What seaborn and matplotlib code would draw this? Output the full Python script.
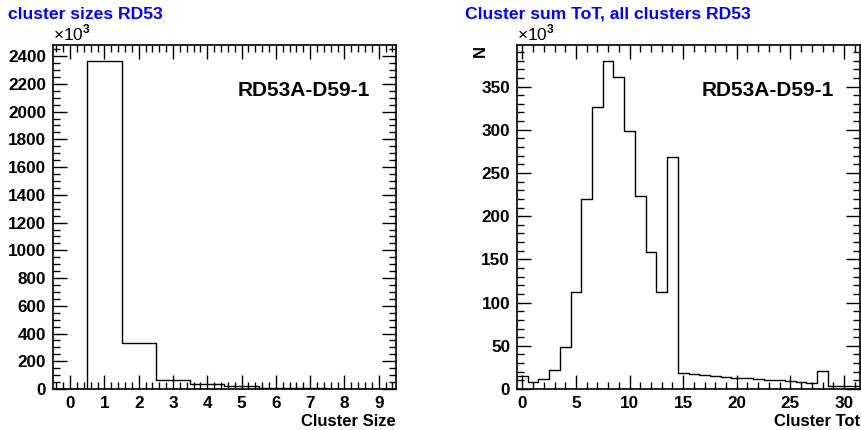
import matplotlib
matplotlib.use("Agg")
import matplotlib.pyplot as plt
import seaborn as sns
from matplotlib.ticker import MultipleLocator, AutoMinorLocator

# Datos de los histogramas (cuentas en unidades de 10^3)
size_bins = list(range(10))
size_counts = [0, 2365, 330, 62, 35, 20, 10, 5, 3, 2]

tot_bins = list(range(32))
tot_counts = [15.4, 7.7, 12, 22, 48.5, 112.8, 219.5, 325.8, 379.7, 360.8,
              298, 223, 159, 111.7, 269, 18, 17, 16, 15, 14,
              13, 12.5, 12, 11, 10, 9.5, 8, 7, 21, 4, 4, 4]

sns.set_style("ticks")
plt.rcParams["font.family"] = ["Liberation Sans", "DejaVu Sans"]
plt.rcParams["font.weight"] = "bold"
plt.rcParams["axes.labelweight"] = "bold"
plt.rcParams["text.color"] = "black"
plt.rcParams["axes.labelcolor"] = "black"
plt.rcParams["mathtext.fontset"] = "custom"
plt.rcParams["mathtext.rm"] = "Liberation Sans"

fig = plt.figure(figsize=(8.62, 4.30), dpi=100)
ax1 = fig.add_axes([0.0615, 0.0953, 0.3977, 0.800])
ax2 = fig.add_axes([0.5998, 0.0953, 0.3979, 0.800])


def root_style(ax, xmaj, xsub, ymaj, ysub):
    for s in ax.spines.values():
        s.set_linewidth(1.2)
        s.set_color("black")
    ax.xaxis.set_major_locator(MultipleLocator(xmaj))
    ax.xaxis.set_minor_locator(AutoMinorLocator(xsub))
    ax.yaxis.set_major_locator(MultipleLocator(ymaj))
    ax.yaxis.set_minor_locator(AutoMinorLocator(ysub))
    ax.tick_params(which="both", direction="in", top=True, right=True,
                   colors="black", width=1.0)
    ax.tick_params(which="major", length=10, labelsize=12.3, pad=5)
    ax.tick_params(which="minor", length=5)
    for lab in ax.get_xticklabels() + ax.get_yticklabels():
        lab.set_fontweight("bold")
    ax.text(0.0, 1.005, r"×10$^{3}$", transform=ax.transAxes, fontsize=12.5,
            fontweight="normal", ha="left", va="bottom")
    ax.text(0.925, 0.869, "RD53A-D59-1", transform=ax.transAxes, fontsize=15,
            fontweight="bold", ha="right", va="center")


# 1. Tamaño de cluster
sns.histplot(x=size_bins, weights=size_counts, discrete=True, element="step",
             fill=False, color="black", linewidth=1.0, ax=ax1)
ax1.set_xlim(-0.5, 9.5)
ax1.set_ylim(0, 2480)
ax1.set_ylabel("")
ax1.set_xlabel("Cluster Size", loc="right", fontsize=12, fontweight="bold", labelpad=2)
root_style(ax1, 1, 5, 200, 4)
fig.text(0.009, 0.967, "cluster sizes RD53", color="blue", fontsize=12.6,
         fontweight="bold", ha="left", va="center")

# 2. Suma de ToT por cluster
sns.histplot(x=tot_bins, weights=tot_counts, discrete=True, element="step",
             fill=False, color="black", linewidth=1.0, ax=ax2)
ax2.set_xlim(-0.5, 31.5)
ax2.set_ylim(0, 398)
ax2.set_ylabel("N", loc="top", fontsize=12, fontweight="bold")
ax2.yaxis.set_label_coords(-0.0845, 1.0)
ax2.set_xlabel("Cluster Tot", loc="right", fontsize=12, fontweight="bold", labelpad=2)
root_style(ax2, 5, 5, 50, 5)
fig.text(0.54, 0.967, "Cluster sum ToT, all clusters RD53", color="blue",
         fontsize=12.6, fontweight="bold", ha="left", va="center")

fig.savefig("out.png", dpi=100)
